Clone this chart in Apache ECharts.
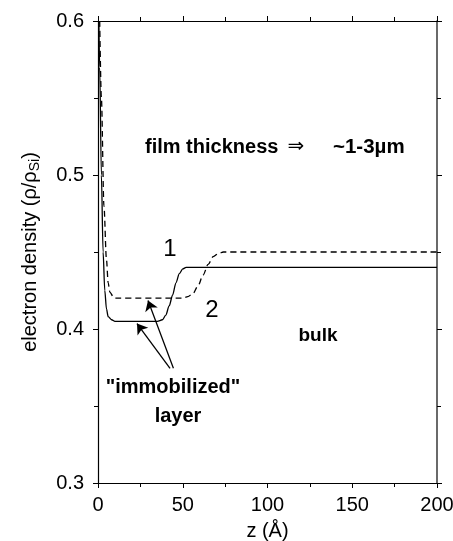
<!DOCTYPE html>
<html>
<head>
<meta charset="utf-8">
<script src="https://cdn.jsdelivr.net/npm/echarts@6/dist/echarts.min.js"></script>
<style>
  html, body { margin: 0; padding: 0; background: #fff; }
  #chart { width: 453px; height: 541px; }
</style>
</head>
<body>
<div id="chart"></div>
<script>
// curve 1 (solid)
const curve1Z   = [0.5, 1, 2, 3, 4, 5, 6, 8, 10, 35, 38, 40, 42, 44, 46, 48, 50, 52, 200]
const curve1Rho = [0.6, 0.57, 0.5, 0.45, 0.425, 0.413, 0.408, 0.406, 0.405, 0.405, 0.406, 0.409, 0.415, 0.422, 0.43, 0.436, 0.439, 0.44, 0.44]
// curve 2 (dashed)
const curve2Z   = [1, 2, 3.5, 5, 6, 7, 9, 10, 50, 53, 56, 59, 62, 65, 68, 71, 74, 200]
const curve2Rho = [0.6, 0.55, 0.48, 0.445, 0.43, 0.424, 0.421, 0.42, 0.42, 0.421, 0.423, 0.428, 0.435, 0.442, 0.447, 0.449, 0.45, 0.45]
// arrows pointing at the plateaus [tail, head]
const arrow1 = [[42.5, 0.3745], [23, 0.4035]]
const arrow2 = [[44.5, 0.3745], [29.5, 0.4185]]

const xTicks = { min: 0, max: 200, interval: 50 }
const yTicks = { min: 0.3, max: 0.6, interval: 0.1 }

const zip = (xs, ys) => xs.map((x, i) => [x, ys[i]])

const font = '"Liberation Sans", Arial, sans-serif'
const chart = echarts.init(document.getElementById('chart'))

const axisCommon = {
  axisLine: { show: true, onZero: false, lineStyle: { color: '#000', width: 1.2 } },
  axisTick: { show: true, inside: false, length: 5, lineStyle: { color: '#000' } },
  minorTick: { show: true, splitNumber: 2, length: 4, lineStyle: { color: '#000' } },
  splitLine: { show: false }
}

const bold = (text, x, y, size, align) => ({
  type: 'text',
  x, y,
  style: {
    text,
    font: `bold ${size}px ${font}`,
    fill: '#000',
    align: align || 'center',
    verticalAlign: 'middle'
  }
})

chart.setOption({
  animation: false,
  grid: { left: 98, right: 16, top: 21, bottom: 58, outerBoundsMode: 'none', containLabel: false },
  xAxis: [
    {
      type: 'value', ...xTicks, position: 'bottom',
      ...axisCommon,
      axisLabel: { color: '#000', fontSize: 20, fontFamily: font, margin: 12 },
      name: 'z (Å)', nameLocation: 'middle', nameGap: 38,
      nameTextStyle: { color: '#000', fontSize: 20, fontFamily: font }
    },
    {
      type: 'value', ...xTicks, position: 'top',
      ...axisCommon,
      axisLabel: { show: false }
    }
  ],
  yAxis: [
    {
      type: 'value', ...yTicks, position: 'left',
      ...axisCommon,
      axisLabel: {
        color: '#000', fontSize: 20, fontFamily: font, margin: 14,
        formatter: v => v.toFixed(1)
      },
      name: '{n|electron density (ρ/ρ}{s|Si}{n|)}',
      nameLocation: 'middle', nameRotate: 90, nameGap: 56,
      nameTextStyle: {
        rich: {
          n: { color: '#000', fontSize: 20, fontFamily: font },
          s: { color: '#000', fontSize: 14, fontFamily: font, verticalAlign: 'bottom', padding: [10, 0, 0, 0] }
        }
      }
    },
    {
      type: 'value', ...yTicks, position: 'right',
      ...axisCommon,
      axisLine: { show: true, onZero: false, lineStyle: { color: '#444', width: 1.6 } },
      axisLabel: { show: false }
    }
  ],
  series: [
    {
      name: '1',
      type: 'line',
      data: zip(curve1Z, curve1Rho),
      smooth: 0.3,
      smoothMonotone: 'x',
      showSymbol: false,
      lineStyle: { color: '#000', width: 1.3 },
      markLine: {
        silent: true,
        symbol: ['none', 'arrow'],
        symbolSize: 10,
        label: { show: false },
        lineStyle: { color: '#000', width: 1.3, type: 'solid' },
        data: [
          [{ coord: arrow1[0] }, { coord: arrow1[1] }],
          [{ coord: arrow2[0] }, { coord: arrow2[1] }]
        ]
      }
    },
    {
      name: '2',
      type: 'line',
      data: zip(curve2Z, curve2Rho),
      smooth: 0.3,
      smoothMonotone: 'x',
      showSymbol: false,
      lineStyle: { color: '#000', width: 1.3, type: [6, 4] }
    }
  ],
  graphic: [
    { type: 'text', x: 170, y: 249, style: { text: '1', font: `24px ${font}`, fill: '#000', align: 'center', verticalAlign: 'middle' } },
    { type: 'text', x: 212, y: 310, style: { text: '2', font: `24px ${font}`, fill: '#000', align: 'center', verticalAlign: 'middle' } },
    bold('film thickness', 145, 147, 20, 'left'),
    { type: 'text', x: 296, y: 147, style: { text: '⇒', font: `20px "DejaVu Sans", ${font}`, fill: '#000', align: 'center', verticalAlign: 'middle' } },
    bold('~1-3µm', 333, 147, 20.5, 'left'),
    bold('"immobilized"', 173, 387, 20),
    bold('layer', 178, 416, 20),
    bold('bulk', 318, 336, 19)
  ]
})
</script>
</body>
</html>
